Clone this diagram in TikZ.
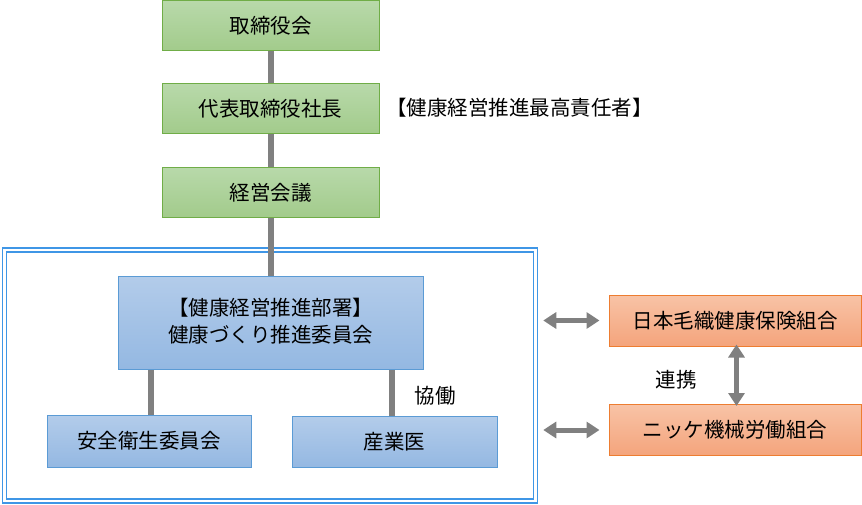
\documentclass[tikz,border=0pt]{standalone}
\usepackage{fontspec}
\setmainfont{Noto Sans CJK JP}
\usetikzlibrary{arrows.meta,calc}
\definecolor{gborder}{HTML}{70AD47}
\definecolor{gtop}{HTML}{B8D9AA}
\definecolor{gbot}{HTML}{A2CB8B}
\definecolor{bborder}{HTML}{5B9BD5}
\definecolor{btop}{HTML}{B3CCEA}
\definecolor{bbot}{HTML}{94B8E2}
\definecolor{oborder}{HTML}{ED7D31}
\definecolor{otop}{HTML}{F8C3A6}
\definecolor{obot}{HTML}{F4A47C}
\definecolor{frameblue}{HTML}{3F96E6}
\definecolor{conn}{HTML}{808080}
\tikzset{
  jfont/.style={font=\fontsize{20.5}{22}\selectfont},
  gbox/.style={draw=gborder,line width=1pt,top color=gtop,bottom color=gbot,minimum width=217pt,minimum height=50pt,inner sep=0pt,jfont},
  bbox/.style={draw=bborder,line width=1pt,top color=btop,bottom color=bbot,inner sep=0pt,jfont},
  obox/.style={draw=oborder,line width=1pt,top color=otop,bottom color=obot,minimum width=252pt,minimum height=51pt,inner sep=0pt,jfont},
  conline/.style={draw=conn,line width=6pt},
  fatarrow/.style={draw=conn,line width=5pt,{Triangle[width=16pt,length=13pt]}-{Triangle[width=16pt,length=13pt]}},
  lbl/.style={jfont,inner sep=0pt}
}
\begin{document}
\begin{tikzpicture}[x=1pt,y=-1pt]
\useasboundingbox (0,0) rectangle (862,505);
% frame
\node[draw=frameblue,line width=1.5pt,double=white,double distance=2.5pt,minimum width=531pt,minimum height=251pt,inner sep=0pt] (frame) at (270,375.5) {};
% green boxes
\node[gbox] (torishimari) at (270.5,26) {取締役会};
\node[gbox] (shacho) at (270.5,109) {代表取締役社長};
\node[gbox] (keiei) at (270.5,192.5) {経営会議};
\node[lbl,anchor=west] (sekinin) at (386,108) {【健康経営推進最高責任者】};
% blue boxes
\node[bbox,minimum width=305pt,minimum height=93pt] (suishin) at (270.5,322.5) {};
\node[lbl] (s1) at (270.5,308) {【健康経営推進部署】};
\node[lbl] (s2) at (270.5,335) {健康づくり推進委員会};
\node[bbox,minimum width=204pt,minimum height=52pt] (anzen) at (149,441) {安全衛生委員会};
\node[bbox,minimum width=205pt,minimum height=51pt] (sangyoi) at (394.5,442) {産業医};
% connectors
\draw[conline] (torishimari.south) -- (shacho.north);
\draw[conline] (shacho.south) -- (keiei.north);
\draw[conline] (keiei.south) -- (suishin.north);
\draw[conline] ([xshift=2pt]anzen.north) -- ([xshift=2pt]anzen.north |- suishin.south);
\draw[conline] ([xshift=-2.5pt]sangyoi.north) -- ([xshift=-2.5pt]sangyoi.north |- suishin.south);
\node[lbl] (kyodo) at (435,396) {協働};
% orange boxes
\node[obox] (kenpo) at (735,320.5) {日本毛織健康保険組合};
\node[obox] (kumiai) at (735,430) {ニッケ機械労働組合};
\draw[fatarrow] ([xshift=7pt]frame.east |- kenpo.west) -- ([xshift=-9pt]kenpo.west);
\draw[fatarrow] ([xshift=7pt]frame.east |- kumiai.west) -- ([xshift=-9pt]kumiai.west);
\draw[fatarrow] ([yshift=2pt,xshift=1.5pt]kenpo.south) -- ([yshift=-2pt,xshift=1.5pt]kumiai.north);
\node[lbl] (renkei) at (676,380) {連携};
\end{tikzpicture}
\end{document}
